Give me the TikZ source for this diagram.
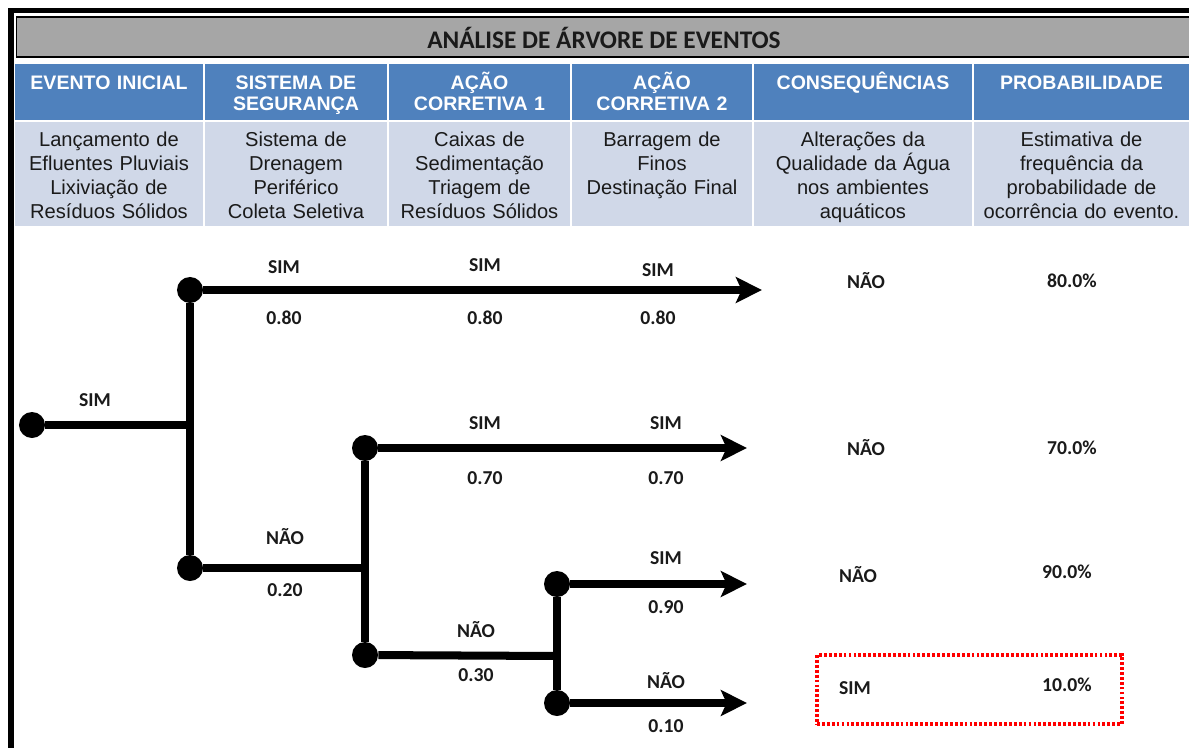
\documentclass[tikz,border=0pt]{standalone}
\usepackage{fontspec}
\setmainfont{Liberation Sans}
\newfontfamily\calibrifont{Carlito}
\usepackage{xcolor}
\usetikzlibrary{arrows.meta}
\definecolor{titleGrey}{HTML}{A6A6A6}
\definecolor{headBlue}{HTML}{4F81BD}
\definecolor{descBlue}{HTML}{D0D8E8}
\definecolor{alertRed}{HTML}{FF0000}
\definecolor{labelInk}{HTML}{1A1A1A}
\tikzset{
  titlebar/.style={rectangle, draw=black, fill=titleGrey, line width=1pt, minimum width=29.5cm, minimum height=1.0cm, inner sep=0pt, font=\calibrifont\bfseries\fontsize{18}{20}\selectfont, text=labelInk},
  headcell/.style={rectangle, fill=headBlue, text=white, align=center, font=\bfseries\fontsize{13.9}{15}\selectfont, text width=#1, minimum height=1.4cm, inner sep=0pt, execute at begin node={\rule{0pt}{15.5pt}}, execute at end node={\strut}},
  desccell/.style={rectangle, fill=descBlue, text=labelInk, align=center, font=\fontsize{14.3}{17.07}\selectfont, text width=#1, minimum height=2.6cm, inner sep=0pt, execute at begin node={\rule{0pt}{17.6pt}}, execute at end node={\strut}},
  % --- event tree styles ---
  treedot/.style={circle, fill=black, minimum size=0.65cm, inner sep=0pt},
  branch/.style={line width=5.7pt, draw=black},
  branchout/.style={branch, -{Stealth[length=6.5mm,width=6.4mm,inset=1.4mm]}},
  treelabel/.style={font=\calibrifont\bfseries\fontsize{14}{16}\selectfont, text=labelInk, inner sep=1pt},
  markbox/.style={rectangle, draw=alertRed, line width=2.3pt, dash pattern=on 2pt off 1.5pt, minimum width=7.625cm, minimum height=1.725cm},
}

\begin{document}
\begin{tikzpicture}[x=0.025cm,y=-0.025cm]
  \useasboundingbox (0,0) rectangle (1189,748);
  \fill[white] (0,0) rectangle (1189,748);
  \fill[black] (8,8) rectangle (1189,13);
  \fill[black] (8,8) rectangle (14,748);

  \node[titlebar, anchor=west] (title) at (15.5,37) {};
  \node[treelabel, font=\calibrifont\bfseries\fontsize{18}{20}\selectfont] (titletext) at (604,38) {ANÁLISE DE ÁRVORE DE EVENTOS};

  \node[headcell=4.7cm]   (hinit) at (109,92)    {EVENTO INICIAL\\\strut};
  \node[headcell=4.55cm]  (hsafe) at (296,92)    {SISTEMA DE\\SEGURANÇA};
  \node[headcell=4.525cm] (hact1) at (479.5,92)  {AÇÃO\\CORRETIVA 1};
  \node[headcell=4.5cm]   (hact2) at (662,92)    {AÇÃO\\CORRETIVA 2};
  \node[headcell=5.45cm]  (hcons) at (863,92)    {CONSEQUÊNCIAS\\\strut};
  \node[headcell=5.375cm] (hprob) at (1081.5,92) {PROBABILIDADE\\\strut};

  \node[desccell=4.7cm]   (dinit) at (109,174)    {Lançamento de\\Efluentes Pluviais\\Lixiviação de\\Resíduos Sólidos};
  \node[desccell=4.55cm]  (dsafe) at (296,174)    {Sistema de\\Drenagem\\Periférico\\Coleta Seletiva};
  \node[desccell=4.525cm] (dact1) at (479.5,174)  {Caixas de\\Sedimentação\\Triagem de\\Resíduos Sólidos};
  \node[desccell=4.5cm]   (dact2) at (662,174)    {Barragem de\\Finos\\Destinação Final\\\strut};
  \node[desccell=5.45cm]  (dcons) at (863,174)    {Alterações da\\Qualidade da Água\\nos ambientes\\aquáticos};
  \node[desccell=5.375cm] (dprob) at (1081.5,174) {Estimativa de\\frequência da\\probabilidade de\\ocorrência do evento.};

  \node[treedot] (start) at (32,425) {};
  \node[treedot] (safeyes) at (190,290) {};
  \node[treedot] (safeno)  at (190,568) {};
  \node[treedot] (act1yes) at (365,448) {};
  \node[treedot] (act1no)  at (365,655) {};
  \node[treedot] (act2yes) at (557,584) {};
  \node[treedot] (act2no)  at (557,703) {};
  \coordinate (jsafe) at (190,425);
  \coordinate (jact1) at (365,568);
  \coordinate (jact2) at (557,656);
  \coordinate (end1) at (762,290);
  \coordinate (end2) at (747,448);
  \coordinate (end3) at (747,584);
  \coordinate (end4) at (747,703);

  \draw[branch] (start) -- (jsafe);
  \draw[branch] (safeyes) -- (safeno);
  \draw[branch] (safeno) -- (jact1);
  \draw[branch] (act1yes) -- (act1no);
  \draw[branch] (act1no) -- (jact2);
  \draw[branch] (act2yes) -- (act2no);
  \draw[branchout] (safeyes) -- (end1);
  \draw[branchout] (act1yes) -- (end2);
  \draw[branchout] (act2yes) -- (end3);
  \draw[branchout] (act2no) -- (end4);

  \node[treelabel] (lstart) at (95,400) {SIM};
  \node[treelabel] (la1) at (284,267) {SIM};
  \node[treelabel] (pa1) at (284,318) {0.80};
  \node[treelabel] (la2) at (485,265) {SIM};
  \node[treelabel] (pa2) at (485,318) {0.80};
  \node[treelabel] (la3) at (658,270) {SIM};
  \node[treelabel] (pa3) at (658,318) {0.80};
  \node[treelabel] (lb1) at (285,537) {NÃO};
  \node[treelabel] (pb1) at (285,590) {0.20};
  \node[treelabel] (lc1) at (485,423) {SIM};
  \node[treelabel] (pc1) at (485,478) {0.70};
  \node[treelabel] (lc2) at (666,423) {SIM};
  \node[treelabel] (pc2) at (666,478) {0.70};
  \node[treelabel] (ld1) at (476,630) {NÃO};
  \node[treelabel] (pd1) at (476,675) {0.30};
  \node[treelabel] (le1) at (666,558) {SIM};
  \node[treelabel] (pe1) at (666,607) {0.90};
  \node[treelabel] (lf1) at (666,681) {NÃO};
  \node[treelabel] (pf1) at (666,726) {0.10};

  \node[treelabel] (cons1) at (866,281) {NÃO};
  \node[treelabel] (prob1) at (1072,281) {80.0\%};
  \node[treelabel] (cons2) at (866,448) {NÃO};
  \node[treelabel] (prob2) at (1072,448) {70.0\%};
  \node[treelabel] (cons3) at (858,575) {NÃO};
  \node[treelabel] (prob3) at (1067,572) {90.0\%};
  \node[treelabel] (cons4) at (855,688) {SIM};
  \node[treelabel] (prob4) at (1067,685) {10.0\%};
  \node[markbox] (hilite) at (969.5,689.5) {};
\end{tikzpicture}
\end{document}
